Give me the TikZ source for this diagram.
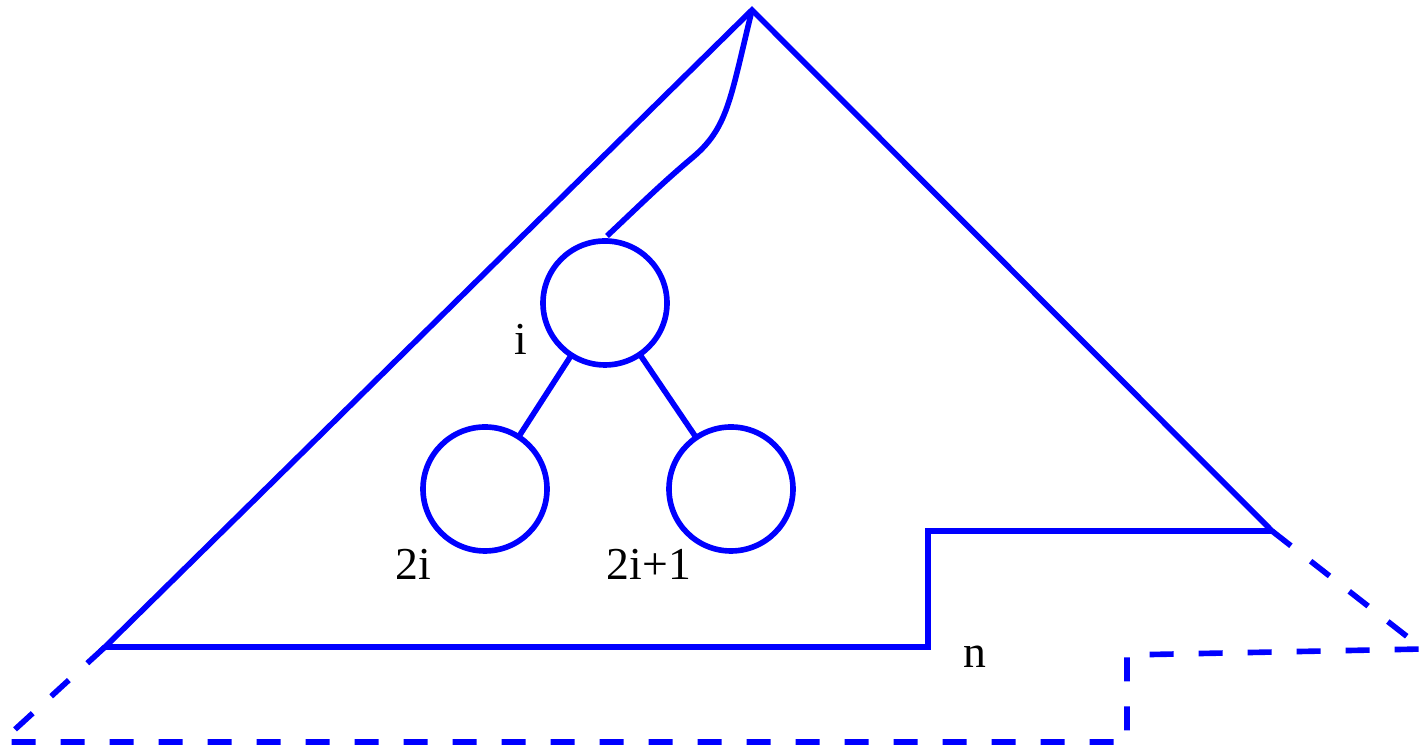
\documentclass[tikz,border=0pt]{standalone}
\usepackage{fontspec}
\setmainfont{Liberation Serif}
\usepackage{tikz}
\usetikzlibrary{positioning,calc}

\begin{document}
\begin{tikzpicture}[
  heapline/.style={draw=blue, line width=1.6pt},
  future/.style={heapline, dash pattern=on 0.24cm off 0.25cm},
  hnode/.style={circle, draw=blue, line width=1.6pt, minimum size=1.24cm, inner sep=0pt, outer sep=0pt},
  lbl/.style={anchor=base, inner sep=0pt, font=\fontsize{13}{15}\selectfont}
]
  \useasboundingbox (0,0) rectangle (14.25,7.48);

  % outline of the heap
  \coordinate (apex) at (7.52,7.38);
  \coordinate (lbase) at (1.05,1.01);
  \coordinate (stepb) at (9.28,1.01);
  \coordinate (stept) at (9.28,2.17);
  \coordinate (rbase) at (12.72,2.17);
  \draw[heapline, line join=miter] (lbase) -- (apex) -- (rbase) -- (stept) -- (stepb) -- cycle;

  % the next levels
  \draw[future] (rbase) -- (14.23,0.99) -- (11.27,0.93) -- (11.27,0.06) -- (0.10,0.06);
  \draw[future] (lbase) -- (0.10,0.14);

  % sub-tree
  \node[hnode] (root) at (6.05,4.45) {};
  \node[hnode] (left) at (4.85,2.59) {};
  \node[hnode] (right) at (7.31,2.59) {};
  \draw[heapline] (root) -- (left);
  \draw[heapline] (root) -- (right);

  % path from the top
  \coordinate (tail) at ($(root.north)+(0.02,0.05)$);
  \draw[heapline] (apex) .. controls (7.30,6.48) and (7.28,6.20) .. (6.92,5.90)
    .. controls (6.60,5.63) and (6.40,5.43) .. (tail);

  \node[lbl] (li) at (5.21,3.93) {i};
  \node[lbl] (l2i) at (4.13,1.68) {2i};
  \node[lbl] (l2i1) at (6.49,1.68) {2i+1};
  \node[lbl] (ln) at (9.75,0.80) {n};
\end{tikzpicture}
\end{document}
